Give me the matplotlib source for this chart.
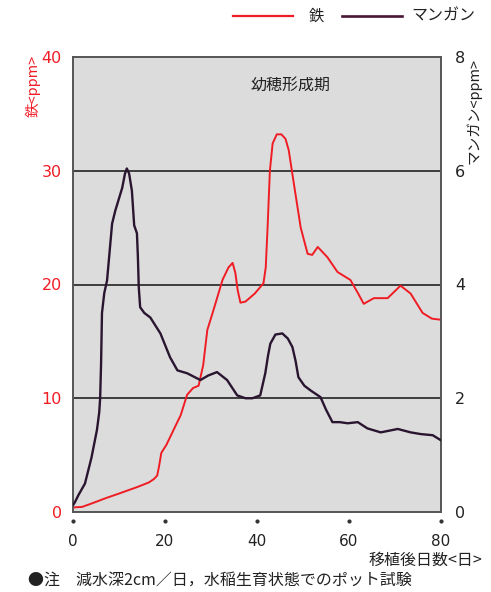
import matplotlib
matplotlib.use("Agg")
import matplotlib.pyplot as plt
import matplotlib.transforms as mtransforms

plt.rcParams['font.family'] = ['Noto Sans CJK JP', 'DejaVu Sans']

# Iron (left axis, ppm)
fe_day = [0, 2, 4.4, 7, 10.2, 14, 16.5, 17.6, 18.3, 18.7, 19.2, 20.3, 22.2, 23.4, 24.8, 26.1, 27.3, 28.3,
          29.2, 30.5, 32.5, 33.8, 34.7, 35.3, 35.8, 36.4, 37.5, 39.5, 41.4, 41.9, 42.3, 42.8, 43.4, 44.3,
          45.3, 46.2, 46.9, 48, 49.5, 51, 52, 53.2, 55.3, 57.5, 60.3, 62, 63.2, 65.4, 68.4, 71.2, 73.4, 76, 78, 80]
fe_val = [0.4, 0.45, 0.8, 1.2, 1.65, 2.2, 2.6, 2.9, 3.2, 4.0, 5.2, 5.9, 7.5, 8.5, 10.3, 10.9, 11.1, 12.9,
          16, 17.7, 20.4, 21.5, 21.9, 21.0, 19.5, 18.4, 18.5, 19.2, 20.1, 21.5, 25, 30, 32.4, 33.2,
          33.2, 32.8, 31.8, 28.9, 25, 22.7, 22.6, 23.3, 22.4, 21.1, 20.4, 19.2, 18.3, 18.8, 18.8, 19.9, 19.2,
          17.5, 17.0, 16.9]

# Manganese (right axis, ppm)
mn_day = [0, 0.4, 1.2, 2.6, 4, 5.2, 5.7, 5.9, 6.1, 6.3, 6.8, 7.4, 8.5, 9.2, 10.7, 11.3, 11.7, 12.2, 12.8,
          13.3, 13.9, 14.1, 14.3, 14.6, 15.5, 16.8, 19, 21.1, 22.7, 24.8, 27.7, 29.4, 31.3, 33.5, 35.7,
          37.5, 39, 40.7, 41.8, 42.4, 42.9, 44, 45.5, 46.7, 47.7, 48.4, 49, 50.3, 51.6, 53.8, 55, 56.4,
          58, 59.7, 61.9, 64, 66.9, 70.6, 73.4, 75.6, 78.2, 80]
mn_val = [0.12, 0.17, 0.3, 0.5, 0.95, 1.44, 1.75, 2.0, 2.6, 3.5, 3.85, 4.07, 5.07, 5.3, 5.7, 5.95, 6.04,
          5.95, 5.65, 5.04, 4.9, 4.5, 3.95, 3.6, 3.5, 3.42, 3.14, 2.72, 2.49, 2.44, 2.32, 2.4, 2.46, 2.32,
          2.05, 2.0, 2.0, 2.05, 2.44, 2.75, 2.96, 3.12, 3.14, 3.05, 2.9, 2.65, 2.37, 2.22, 2.14, 2.02, 1.8,
          1.58, 1.58, 1.56, 1.58, 1.47, 1.40, 1.46, 1.4, 1.37, 1.35, 1.26]

x_ticks = [0, 20, 40, 60, 80]
fe_ticks = [0, 10, 20, 30, 40]
mn_ticks = [0, 2, 4, 6, 8]

FE_COLOR = '#f01c24'
MN_COLOR = '#2a1530'

fig = plt.figure(figsize=(4.91, 5.92), dpi=100)
ax = fig.add_axes([73/491, 80/592, 368/491, 455/592])
ax.set_facecolor('#dcdcdc')
ax.set_xlim(0, 80)
ax.set_ylim(0, 40)

for g in [10, 20, 30]:
    ax.axhline(g, color='#222222', lw=1.2, zorder=1)

ax.plot(fe_day, fe_val, color=FE_COLOR, lw=1.4, zorder=3, solid_joinstyle='round', solid_capstyle='round')

ax2 = ax.twinx()
ax2.set_ylim(0, 8)
ax2.plot(mn_day, mn_val, color=MN_COLOR, lw=1.7, zorder=3, solid_joinstyle='round', solid_capstyle='round')

for a in (ax, ax2):
    for s in a.spines.values():
        s.set_color('#555555')
        s.set_linewidth(1.2)

ax.set_xticks(x_ticks)
ax.set_xticklabels([str(v) for v in x_ticks], fontsize=11, color='#222222', family='DejaVu Sans')
ax.tick_params(axis='x', length=0, pad=16)
trans = mtransforms.blended_transform_factory(ax.transData, ax.transAxes)
ax.plot(x_ticks, [-0.02] * len(x_ticks), 'o', ms=2, color='#333333', transform=trans, clip_on=False)

ax.set_yticks(fe_ticks)
ax.set_yticklabels([str(v) for v in fe_ticks], fontsize=11.5, color=FE_COLOR, family='DejaVu Sans')
ax.tick_params(axis='y', length=0, pad=8)

ax2.set_yticks(mn_ticks)
ax2.set_yticklabels([str(v) for v in mn_ticks], fontsize=11.5, color='#222222', family='DejaVu Sans')
ax2.tick_params(axis='y', length=0, pad=10)

ax.text(47.3, 37.5, '幼穂形成期', ha='center', va='center', fontsize=11.5, color='#222222')

fig.text(33/491, 1 - 55/592, '鉄<ppm>', rotation=90, ha='center', va='top', fontsize=10.5, color=FE_COLOR)
fig.text(474/491, 1 - 58/592, 'マンガン<ppm>', rotation=90, ha='center', va='top', fontsize=10.5, color='#222222')

fig.text(482/491, 1 - 560/592, '移植後日数<日>', ha='right', va='center', fontsize=11.5, color='#222222')
fig.text(28/491, 1 - 580/592, '●注　減水深2cm／日，水稲生育状態でのポット試験', ha='left', va='center',
         fontsize=11.5, color='#222222')

# legend
fig.add_artist(plt.Line2D([233/491, 293/491], [1 - 16/592] * 2, color=FE_COLOR, lw=1.6))
fig.text(316/491, 1 - 16/592, '鉄', ha='center', va='center', fontsize=11, color='#222222')
fig.add_artist(plt.Line2D([342/491, 402/491], [1 - 16/592] * 2, color='#4a1535', lw=1.9))
fig.text(411/491, 1 - 16/592, 'マンガン', ha='left', va='center', fontsize=11.5, color='#222222')

fig.savefig('out.png', dpi=100)
